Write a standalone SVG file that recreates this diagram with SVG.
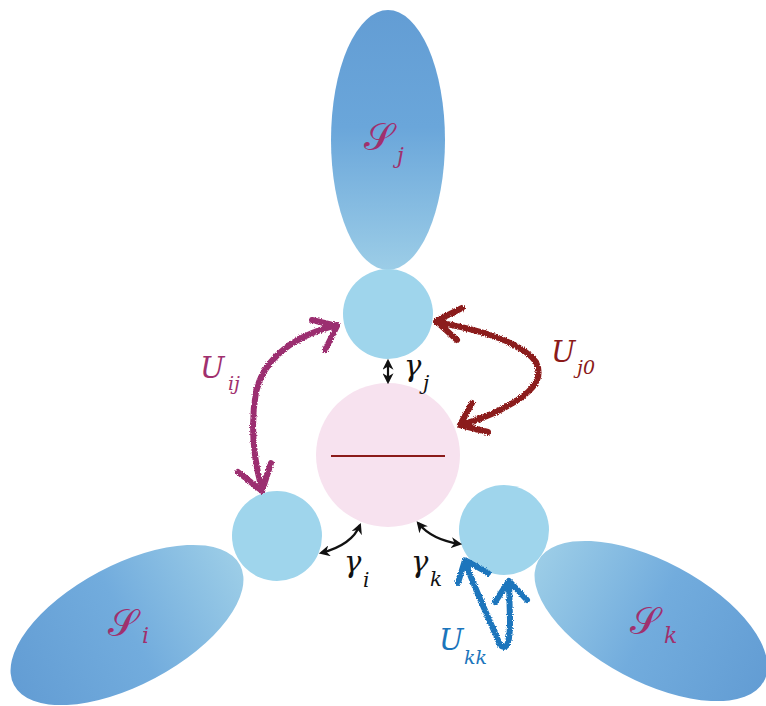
<svg xmlns="http://www.w3.org/2000/svg" width="766" height="706" viewBox="0 0 766 706">
<defs>
<linearGradient id="gj" x1="0" y1="0" x2="0" y2="1">
<stop offset="0" stop-color="#639dd4"/><stop offset="0.45" stop-color="#6aa6da"/><stop offset="1" stop-color="#9ccde7"/>
</linearGradient>
<linearGradient id="gi" x1="0" y1="0" x2="1" y2="0">
<stop offset="0" stop-color="#639dd4"/><stop offset="0.5" stop-color="#72acdd"/><stop offset="1" stop-color="#9ccde7"/>
</linearGradient>
<linearGradient id="gk" x1="0" y1="0" x2="1" y2="0">
<stop offset="0" stop-color="#9ccde7"/><stop offset="0.5" stop-color="#72acdd"/><stop offset="1" stop-color="#639dd4"/>
</linearGradient>
<filter id="rough" x="-10%" y="-10%" width="120%" height="120%">
<feTurbulence type="fractalNoise" baseFrequency="0.9" numOctaves="2" seed="3"/>
<feDisplacementMap in="SourceGraphic" scale="3.5" xChannelSelector="R" yChannelSelector="G"/>
</filter>
<marker id="ah" viewBox="0 0 10 10" refX="8" refY="5" markerWidth="5" markerHeight="5" orient="auto-start-reverse">
<path d="M0,0 L10,5 L0,10 L3,5 Z" fill="#111"/>
</marker>
</defs>
<style>
.site{fill:#9fd5ec}
.sk{fill:none;stroke-width:6;stroke-linecap:round;stroke-linejoin:round}
.th{fill:none;stroke:#111;stroke-width:2.2}
.it{font-family:'DejaVu Serif',serif;font-style:italic}
.scr{font-family:'DejaVu Serif',serif}
</style>
<g id="bath-j"><ellipse cx="388" cy="140" rx="57" ry="130" fill="url(#gj)"/>
<text class="scr" x="364" y="150" font-size="38" fill="#a0306e">𝒮</text><text class="it" x="397" y="163" font-size="22" fill="#a0306e">j</text></g>
<g id="bath-i"><ellipse cx="0" cy="0" rx="128" ry="60" fill="url(#gi)" transform="translate(127,625) rotate(-28)"/>
<text class="scr" x="108" y="636" font-size="38" fill="#a0306e">𝒮</text><text class="it" x="142" y="643" font-size="22" fill="#a0306e">i</text></g>
<g id="bath-k"><ellipse cx="0" cy="0" rx="128" ry="60" fill="url(#gk)" transform="translate(651,621) rotate(28)"/>
<text class="scr" x="630" y="634" font-size="38" fill="#a0306e">𝒮</text><text class="it" x="664" y="643" font-size="22" fill="#a0306e">k</text></g>
<g id="center"><circle cx="388" cy="455" r="72" fill="#f7e2ef"/><line x1="331" y1="456" x2="445" y2="456" stroke="#8b1a1a" stroke-width="2"/></g>
<g id="site-j"><circle class="site" cx="388" cy="314" r="45"/></g>
<g id="site-i"><circle class="site" cx="277" cy="536" r="45"/></g>
<g id="site-k"><circle class="site" cx="504" cy="530" r="45"/></g>
<g id="connectors">
<g filter="url(#rough)">
<path class="sk" stroke="#9b2d6f" d="M262,490 C254,460 250,425 256,392 C262,365 285,338 337,325 M312,320 L337,326 L325,350 M238,472 L262,491 L271,463"/>
<path class="sk" stroke="#8b1a1a" d="M436,322 C470,328 520,340 536,362 C545,380 530,395 500,410 C480,420 470,422 460,425 M462,308 L436,321 L457,340 M472,403 L460,425 L488,432"/>
<path class="sk" stroke="#1b75bc" d="M465,561 C475,590 492,625 500,645 C508,652 510,640 510,620 L509,582 M458,583 L465,560 L488,573 M495,602 L509,581 L527,600"/>
</g>
<line class="th" x1="388" y1="361" x2="388" y2="382" marker-start="url(#ah)" marker-end="url(#ah)"/>
<path class="th" d="M360,525 Q352,545 321,553" marker-start="url(#ah)" marker-end="url(#ah)"/>
<path class="th" d="M418,523 Q432,540 460,544" marker-start="url(#ah)" marker-end="url(#ah)"/>
</g>
<g id="labels">
<text class="it" x="200" y="378" font-size="29" fill="#a0306e">U</text><text class="it" x="228" y="390" font-size="19" fill="#a0306e">ij</text>
<text class="it" x="551" y="362" font-size="29" fill="#8b1a1a">U</text><text class="it" x="577" y="374" font-size="19" fill="#8b1a1a">j0</text>
<text class="it" x="439" y="650" font-size="29" fill="#1b75bc">U</text><text class="it" x="464" y="664" font-size="19" fill="#1b75bc">kk</text>
<text class="it" x="404" y="376" font-size="29" fill="#111">γ</text><text class="it" x="423" y="390" font-size="20" fill="#111">j</text>
<text class="it" x="344" y="572" font-size="29" fill="#111">γ</text><text class="it" x="363" y="587" font-size="20" fill="#111">i</text>
<text class="it" x="411" y="572" font-size="29" fill="#111">γ</text><text class="it" x="430" y="586" font-size="20" fill="#111">k</text>
</g>
</svg>
